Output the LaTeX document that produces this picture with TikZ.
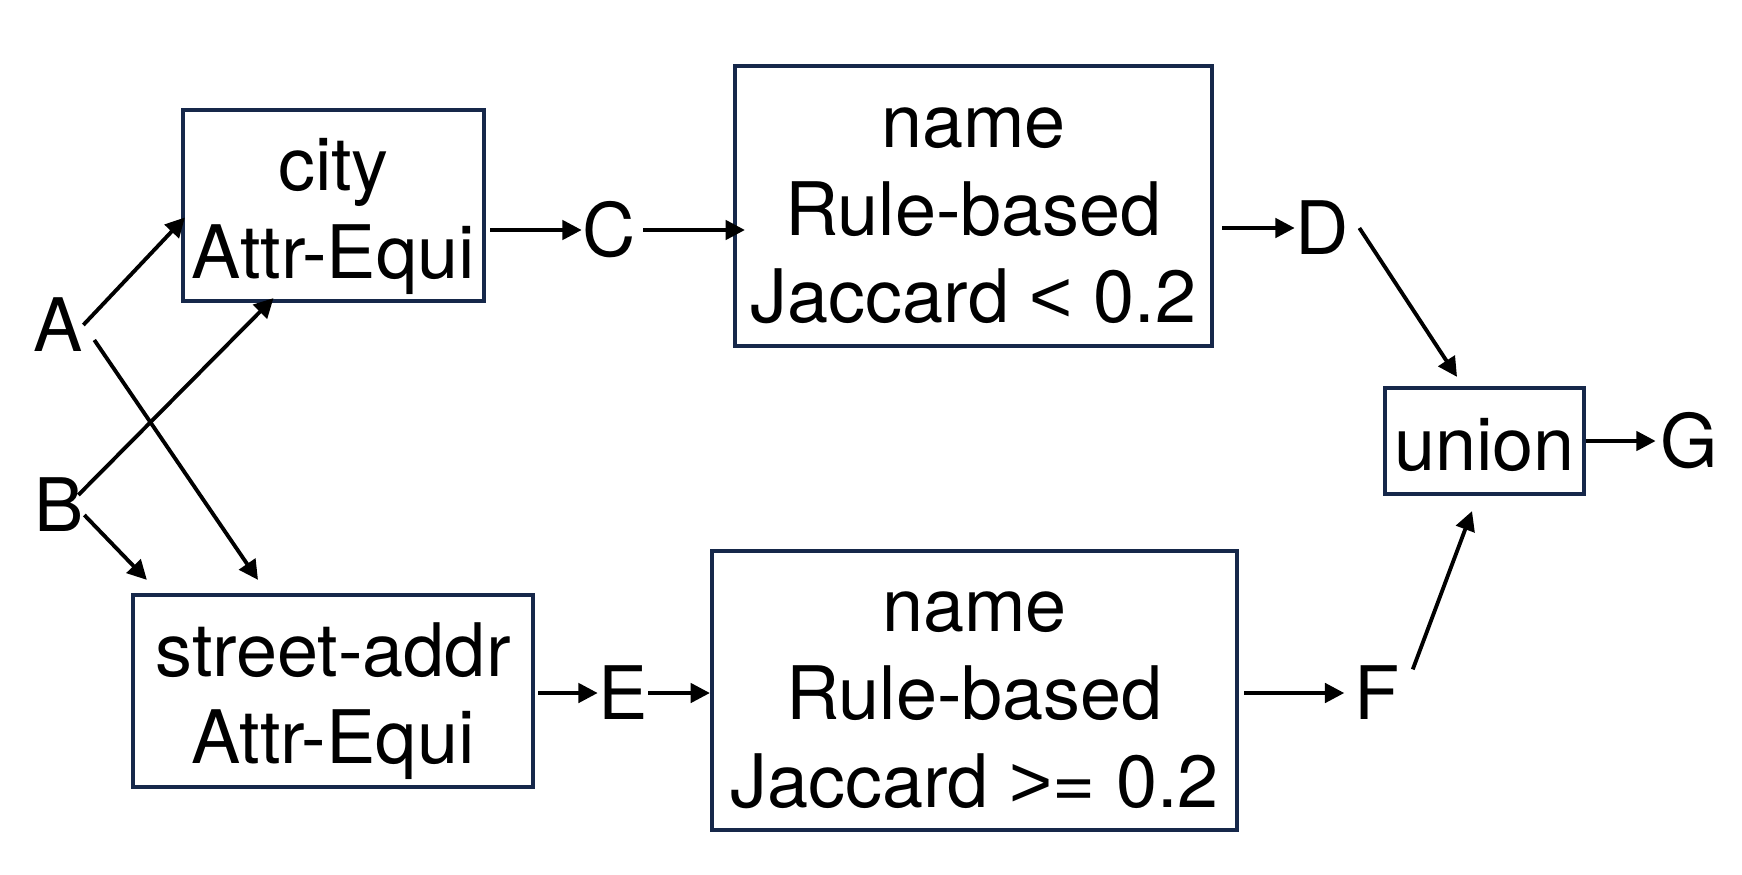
\documentclass[tikz,border=0pt]{standalone}
\usepackage{fontspec}
\setmainfont{TeX Gyre Heros}
\newfontfamily\symfont{Liberation Sans}
\usepackage{tikz}
\usetikzlibrary{calc,arrows.meta}
\definecolor{boxcolor}{RGB}{22,40,74}
\newcommand{\boxthickness}{1.2pt}
\newcommand{\arrowthickness}{1.1pt}
\newcommand{\topline}{\rule{0pt}{0.78cm}}
\newcommand{\botline}{\rule[-0.2cm]{0pt}{0.2cm}}

\begin{document}
\begin{tikzpicture}[
  every node/.style={font=\fontsize{21}{25}\selectfont},
  box/.style={draw=boxcolor, line width=\boxthickness, align=center, inner sep=0pt},
  lbl/.style={inner sep=0pt},
  arr/.style={-{Triangle[length=5.5pt,width=5.5pt]}, line width=\arrowthickness}
]
\useasboundingbox (0,0) rectangle (17.42,8.74);
%inputs
\node[lbl] (A) at (0.58, 5.49) {A};
\node[lbl] (B) at (0.59, 3.69) {B};
%attribute equivalence
\node[box, minimum width=3.01cm, minimum height=1.91cm] (city) at (3.335, 6.685) {\topline city\\Attr-Equi\botline};
\node[box, minimum width=4.00cm, minimum height=1.92cm] (street) at (3.33, 1.83) {\topline street-addr\\Attr-Equi\botline};
\node[lbl] (C) at (6.09, 6.44) {C};
\node[lbl] (E) at (6.23, 1.81) {E};
%rule-based
\node[box, minimum width=4.77cm, minimum height=2.80cm] (name1) at (9.735, 6.68) {\topline name\\Rule-based\\Jaccard {\symfont <} 0.2\botline};
\node[box, minimum width=5.25cm, minimum height=2.79cm] (name2) at (9.745, 1.835) {\topline name\\Rule-based\\Jaccard {\symfont >}= 0.2\botline};
\node[lbl] (D) at (13.22, 6.46) {D};
\node[lbl] (F) at (13.775, 1.81) {F};
%union
\node[box, minimum width=1.99cm, minimum height=1.06cm] (union) at (14.845, 4.33) {\topline union\botline};
\node[lbl] (G) at (16.89, 4.33) {G};
%arrows
\draw[arr] (A.east) -- ($(city.west)+(0.04,-0.12)$);
\draw[arr] ($(A.east)+(0.11,-0.15)$) -- ($(street.north)+(-0.75,0.13)$);
\draw[arr] ($(B.east)+(-0.06,0.1)$) -- ($(city.south)+(-0.6,0.05)$);
\draw[arr] ($(B.east)+(0,-0.1)$) -- ($(street.north west)+(0.16,0.13)$);
\draw[arr, shorten <=0.04cm] (city.east |- C) -- (C.west);
\draw[arr, shorten <=0.07cm, shorten >=-0.12cm] (C.east) -- (name1.west |- C);
\draw[arr, shorten <=0.08cm] (name1.east |- D) -- (D.west);
\draw[arr] ($(D.east)+(0.1,0)$) -- ($(union.north)+(-0.275,0.09)$);
\draw[arr, shorten >=0.04cm] (union.east) -- (G.west);
\draw[arr] ($(F.north east)+(0.12,-0.04)$) -- ($(union.south)+(-0.125,-0.15)$);
\draw[arr, shorten <=0.03cm] (street.east |- E) -- (E.west);
\draw[arr] (E.east) -- (name2.west |- E);
\draw[arr, shorten <=0.05cm, shorten >=0.1cm] (name2.east |- F) -- (F.west);
\end{tikzpicture}
\end{document}
